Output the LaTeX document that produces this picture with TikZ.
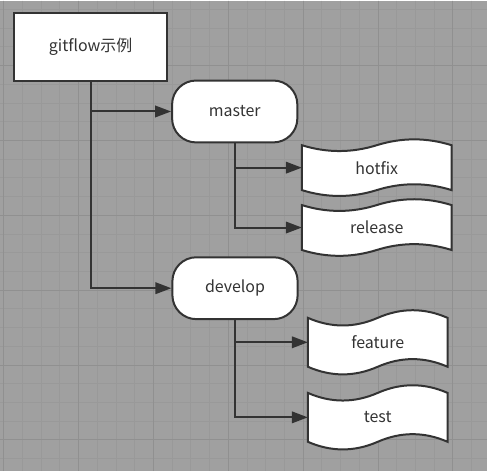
\documentclass[tikz,border=0pt]{standalone}
\usepackage{fontspec}
\setmainfont{Noto Sans CJK SC}
\usetikzlibrary{arrows.meta,calc}
\definecolor{bgc}{RGB}{160,160,160}
\definecolor{gridminor}{RGB}{153,153,153}
\definecolor{gridmajor}{RGB}{144,144,144}
\definecolor{ink}{RGB}{51,51,51}
\pgfdeclarelayer{bg}
\pgfdeclarelayer{shapes}
\pgfsetlayers{bg,shapes,main}
\tikzset{
  box/.style={draw=ink, line width=2pt, fill=white},
  txt/.style={text=ink, font=\fontsize{16pt}{19pt}\selectfont, inner sep=0pt},
  conn/.style={draw=ink, line width=2pt, -{Triangle[length=16pt,width=11.5pt]}},
  rectbox/.style={box, txt, minimum width=154pt, minimum height=68pt},
  roundbox/.style={box, txt, rounded corners=24pt, minimum width=125.5pt, minimum height=62pt},
  tapenode/.style 2 args={txt, outer sep=0pt, minimum width=#1, minimum height=#2},
}
\newcommand\tapedraw[4]{%
  \begin{pgfonlayer}{shapes}
  \begin{scope}[shift={(#1.north west)}]
    \draw[box] (0,#4/2) .. controls (#2/6,1.1*#4) and (#2/3,1.1*#4) .. (#2/2,#4/2)
      .. controls (2*#2/3,-0.1*#4) and (5*#2/6,-0.1*#4) .. (#2,#4/2)
      -- (#2,#3-#4/2)
      .. controls (5*#2/6,#3-1.1*#4) and (2*#2/3,#3-1.1*#4) .. (#2/2,#3-#4/2)
      .. controls (#2/3,#3+0.1*#4) and (#2/6,#3+0.1*#4) .. (0,#3-#4/2) -- cycle;
  \end{scope}
  \end{pgfonlayer}}
\begin{document}
\begin{tikzpicture}[x=1pt,y=-1pt]
\begin{pgfonlayer}{bg}
  \fill[bgc] (0,0) rectangle (487,471);
  \foreach \n in {0,...,25} {
    \pgfmathsetmacro\xx{3.3+18.75*\n}
    \draw[gridminor, line width=1pt] (\xx,0) -- (\xx,471);
  }
  \foreach \n in {0,...,24} {
    \pgfmathsetmacro\yy{9.05+18.75*\n}
    \draw[gridminor, line width=1pt] (0,\yy) -- (487,\yy);
  }
  \foreach \n in {0,...,6} {
    \pgfmathsetmacro\xx{3.3+75*\n}
    \draw[gridmajor, line width=1pt] (\xx,0) -- (\xx,471);
  }
  \foreach \n in {0,...,5} {
    \pgfmathsetmacro\yy{65.3+75*\n}
    \draw[gridmajor, line width=1pt] (0,\yy) -- (487,\yy);
  }
\end{pgfonlayer}
\useasboundingbox (0,0) rectangle (487,471);

\node[rectbox] (main) at (90.3,46.3) {gitflow示例};
\node[roundbox] (master) at (234.7,111.2) {master};
\node[roundbox] (develop) at (235,288.3) {develop};

\node[tapenode={150pt}{58pt}] (hotfix) at (377,167.5) {hotfix};
\node[tapenode={150pt}{58pt}] (release) at (377,227.5) {release};
\node[tapenode={140pt}{66pt}] (feature) at (378,342.5) {feature};
\node[tapenode={140pt}{66pt}] (test) at (378,417.7) {test};
\tapedraw{hotfix}{150}{58}{13}
\tapedraw{release}{150}{58}{13}
\tapedraw{feature}{140}{66}{17}
\tapedraw{test}{140}{66}{17}

\draw[conn] (main.south) |- (master.west);
\draw[conn] (main.south) |- (develop.west);
\draw[conn] (master.south) |- (hotfix.west);
\draw[conn] (master.south) |- (release.west);
\draw[conn] (develop.south) |- (feature.west);
\draw[conn] (develop.south) |- (test.west);
\end{tikzpicture}
\end{document}
